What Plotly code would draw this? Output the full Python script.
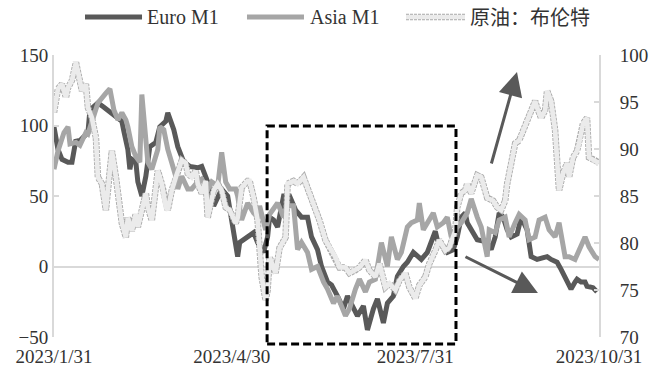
import plotly.graph_objects as go

# ---------------- data ----------------
euro_dates = ["2023-01-31","2023-02-02","2023-02-04","2023-02-07","2023-02-09","2023-02-11","2023-02-12","2023-02-15",
 "2023-02-17","2023-02-18","2023-02-22","2023-02-25","2023-02-28","2023-03-04","2023-03-06","2023-03-07","2023-03-09",
 "2023-03-10","2023-03-11","2023-03-13","2023-03-14","2023-03-16","2023-03-18","2023-03-20","2023-03-23","2023-03-25",
 "2023-03-28","2023-03-29","2023-04-01","2023-04-03","2023-04-06","2023-04-09","2023-04-13","2023-04-15","2023-04-18",
 "2023-04-21","2023-04-23","2023-04-25","2023-04-28","2023-05-01","2023-05-03","2023-05-04","2023-05-08","2023-05-11",
 "2023-05-13","2023-05-16","2023-05-18","2023-05-19","2023-05-21","2023-05-23","2023-05-26","2023-05-29","2023-06-01",
 "2023-06-04","2023-06-07","2023-06-09","2023-06-12","2023-06-14","2023-06-17","2023-06-19","2023-06-22","2023-06-25",
 "2023-06-27","2023-06-30","2023-07-02","2023-07-05","2023-07-07","2023-07-10","2023-07-12","2023-07-15","2023-07-17",
 "2023-07-20","2023-07-22","2023-07-25","2023-07-27","2023-07-30","2023-08-01","2023-08-03","2023-08-06","2023-08-08",
 "2023-08-10","2023-08-11","2023-08-14","2023-08-16","2023-08-19","2023-08-21","2023-08-23","2023-08-25","2023-08-26",
 "2023-08-29","2023-08-31","2023-09-03","2023-09-05","2023-09-07","2023-09-09","2023-09-11","2023-09-13","2023-09-15",
 "2023-09-17","2023-09-20","2023-09-22","2023-09-25","2023-09-27","2023-09-30","2023-10-02","2023-10-05","2023-10-07",
 "2023-10-10","2023-10-12","2023-10-15","2023-10-17","2023-10-19","2023-10-20","2023-10-22","2023-10-24","2023-10-25",
 "2023-10-28","2023-10-30"]
euro_m1 = [99,83,76,74,74,90,88,92,95,111,116,113,110,106,103,96,83,69,76,74,60,50,64,85,88,99,103,109,97,85,74,71,70,71,
 60,43,50,55,50,21,7,17,21,24,17,10,21,35,33,28,50,50,40,35,35,21,12,0,-11,-13,-21,-30,-21,-30,-35,-28,-45,-30,-23,-40,
 -26,-21,-7,0,3,10,7,5,10,17,25,19,14,10,12,21,35,38,31,24,19,18,17,12,21,38,35,26,21,23,35,26,7,5,6,7,5,3,-2,-11,-16,
 -11,-9,-11,-11,-14,-15,-18]

asia_dates = ["2023-01-31","2023-02-02","2023-02-05","2023-02-07","2023-02-08","2023-02-11","2023-02-13","2023-02-16",
 "2023-02-17","2023-02-20","2023-02-22","2023-02-26","2023-02-28","2023-03-02","2023-03-04","2023-03-06","2023-03-08",
 "2023-03-09","2023-03-11","2023-03-13","2023-03-15","2023-03-16","2023-03-18","2023-03-19","2023-03-21","2023-03-24",
 "2023-03-25","2023-03-27","2023-03-29","2023-03-30","2023-04-02","2023-04-03","2023-04-05","2023-04-08","2023-04-10",
 "2023-04-13","2023-04-15","2023-04-18","2023-04-20","2023-04-23","2023-04-25","2023-04-27","2023-04-29","2023-05-02",
 "2023-05-03","2023-05-05","2023-05-08","2023-05-11","2023-05-13","2023-05-14","2023-05-17","2023-05-19","2023-05-23",
 "2023-05-26","2023-05-28","2023-05-31","2023-06-02","2023-06-04","2023-06-07","2023-06-09","2023-06-12","2023-06-15",
 "2023-06-17","2023-06-20","2023-06-22","2023-06-26","2023-06-28","2023-07-01","2023-07-03","2023-07-06","2023-07-08",
 "2023-07-11","2023-07-14","2023-07-17","2023-07-19","2023-07-22","2023-07-24","2023-07-27","2023-07-29","2023-08-01",
 "2023-08-02","2023-08-04","2023-08-06","2023-08-09","2023-08-11","2023-08-14","2023-08-16","2023-08-18","2023-08-21",
 "2023-08-23","2023-08-26","2023-08-28","2023-08-31","2023-09-02","2023-09-05","2023-09-06","2023-09-09","2023-09-11",
 "2023-09-14","2023-09-16","2023-09-19","2023-09-21","2023-09-24","2023-09-26","2023-09-29","2023-10-01","2023-10-04",
 "2023-10-06","2023-10-09","2023-10-11","2023-10-14","2023-10-16","2023-10-19","2023-10-21","2023-10-24","2023-10-26",
 "2023-10-29","2023-10-31"]
asia_m1 = [69,82,95,99,87,88,86,95,94,106,116,123,126,111,104,109,104,99,85,78,74,122,95,74,69,83,99,97,83,78,64,55,64,
 55,55,60,62,55,60,57,81,60,55,55,50,33,45,38,35,43,26,37,45,35,43,43,12,17,10,-2,0,-11,-16,-26,-21,-35,-30,-16,-9,-18,
 -11,-9,17,0,21,5,10,28,31,33,45,26,31,38,28,31,35,21,28,31,38,48,35,28,7,26,24,33,35,21,31,37,33,19,21,33,35,26,21,31,
 7,7,5,12,21,14,7,5]

brent_dates = ["2023-01-31","2023-02-02","2023-02-04","2023-02-06","2023-02-07","2023-02-09","2023-02-11","2023-02-12",
 "2023-02-14","2023-02-16","2023-02-17","2023-02-19","2023-02-21","2023-02-22","2023-02-24","2023-02-26","2023-02-27",
 "2023-03-01","2023-03-03","2023-03-04","2023-03-06","2023-03-08","2023-03-09","2023-03-11","2023-03-13","2023-03-14",
 "2023-03-16","2023-03-18","2023-03-19","2023-03-21","2023-03-23","2023-03-24","2023-03-26","2023-03-28","2023-03-29",
 "2023-03-31","2023-04-02","2023-04-03","2023-04-05","2023-04-07","2023-04-08","2023-04-10","2023-04-12","2023-04-13",
 "2023-04-15","2023-04-17","2023-04-18","2023-04-21","2023-04-23","2023-04-25","2023-04-27","2023-04-29","2023-05-02",
 "2023-05-03","2023-05-05","2023-05-08","2023-05-09","2023-05-11","2023-05-13","2023-05-15","2023-05-17","2023-05-18",
 "2023-05-19","2023-05-22","2023-05-24","2023-05-27","2023-05-28","2023-05-31","2023-06-02","2023-06-05","2023-06-07",
 "2023-06-08","2023-06-11","2023-06-13","2023-06-16","2023-06-18","2023-06-21","2023-06-23","2023-06-26","2023-06-28",
 "2023-07-01","2023-07-03","2023-07-06","2023-07-08","2023-07-11","2023-07-13","2023-07-16","2023-07-18","2023-07-21",
 "2023-07-23","2023-07-26","2023-07-28","2023-07-31","2023-08-02","2023-08-05","2023-08-07","2023-08-10","2023-08-12",
 "2023-08-15","2023-08-17","2023-08-20","2023-08-21","2023-08-23","2023-08-25","2023-08-26","2023-08-28","2023-08-30",
 "2023-08-31","2023-09-02","2023-09-04","2023-09-05","2023-09-08","2023-09-10","2023-09-12","2023-09-14","2023-09-15",
 "2023-09-17","2023-09-19","2023-09-21","2023-09-23","2023-09-25","2023-09-27","2023-09-29","2023-09-30","2023-10-02",
 "2023-10-04","2023-10-05","2023-10-07","2023-10-09","2023-10-10","2023-10-11","2023-10-13","2023-10-15","2023-10-16",
 "2023-10-18","2023-10-20","2023-10-21","2023-10-23","2023-10-25","2023-10-26","2023-10-29","2023-10-31"]
brent = [93.9,96.4,96.9,95.5,96.5,97.3,99.2,98.3,96.2,96.9,94.4,93.3,91.2,87.0,86.3,83.5,85.6,89.8,87.0,85.3,82.1,80.6,
 82.7,81.3,83.1,81.7,83.5,85.3,83.8,82.4,85.9,87.7,86.3,83.8,83.5,85.6,87.0,87.7,88.8,88.5,87.4,87.0,87.7,86.3,85.3,86.6,
 82.7,85.6,86.3,85.6,83.8,83.5,82.1,82.7,85.9,86.6,86.6,84.8,82.4,76.4,73.9,75.0,78.5,76.8,79.5,80.6,86.3,86.6,86.3,87.0,
 85.9,85.3,83.5,82.4,80.3,79.5,78.5,77.4,77.4,76.8,77.1,77.4,78.2,77.1,76.4,77.8,75.3,75.7,75.0,76.0,76.8,75.3,74.1,75.5,
 76.4,77.8,79.2,80.3,79.2,79.5,81.3,83.8,85.3,85.6,86.3,85.3,86.6,87.2,87.0,85.6,84.8,84.5,83.8,83.5,84.5,86.3,88.5,90.6,
 90.9,92.0,93.0,94.1,95.1,94.4,93.3,94.1,96.2,95.1,92.0,88.8,85.6,87.4,88.5,87.0,89.1,89.8,90.6,92.7,93.3,89.1,88.8,88.5]

x_tick_vals = ["2023-01-31", "2023-04-30", "2023-07-31", "2023-10-31"]
x_tick_text = ["2023/1/31", "2023/4/30", "2023/7/31", "2023/10/31"]
left_ticks = [-50, 0, 50, 100, 150]
right_ticks = [70, 75, 80, 85, 90, 95, 100]
names = ["Euro M1", "Asia M1", "原油：布伦特"]

# ---------------- figure ----------------
SERIF = "Liberation Serif, Times New Roman, Noto Sans CJK SC, serif"
CJK = "Noto Sans CJK SC, Noto Sans, sans-serif"
C_EURO, C_ASIA, C_BRENT, C_BRENT_EDGE = "#595959", "#a6a6a6", "#ebebeb", "#ababab"

fig = go.Figure()
fig.add_trace(go.Scatter(x=euro_dates, y=euro_m1, name=names[0], mode="lines",
                         line=dict(color=C_EURO, width=5)))
fig.add_trace(go.Scatter(x=asia_dates, y=asia_m1, name=names[1], mode="lines",
                         line=dict(color=C_ASIA, width=5)))
fig.add_trace(go.Scatter(x=brent_dates, y=brent, yaxis="y2", name=names[2], mode="lines",
                         hoverinfo="skip",
                         line=dict(color=C_BRENT_EDGE, width=6.5, dash="3px,1px")))
fig.add_trace(go.Scatter(x=brent_dates, y=brent, yaxis="y2", name=names[2], mode="lines",
                         line=dict(color=C_BRENT, width=4.7)))

grey = "#d9d9d9"
fig.update_layout(
    width=649, height=376,
    margin=dict(l=54, r=50, t=55, b=39, autoexpand=False),
    paper_bgcolor="white", plot_bgcolor="white",
    font=dict(family=SERIF, size=19, color="#333333"),
    showlegend=False,
    xaxis=dict(type="date", range=["2023-01-31", "2023-10-31"],
               tickvals=x_tick_vals, ticktext=x_tick_text,
               showgrid=False, showline=False, zeroline=False, ticks="",
               ticklabelstandoff=6, tickfont=dict(size=19)),
    yaxis=dict(range=[-50, 150], tickvals=left_ticks, showgrid=False,
               showline=True, linecolor=grey, linewidth=2,
               ticks="inside", ticklen=5, tickcolor=grey, tickwidth=2,
               zeroline=True, zerolinecolor=grey, zerolinewidth=2,
               ticklabelstandoff=0),
    yaxis2=dict(range=[70, 100], tickvals=right_ticks, overlaying="y", side="right",
                showgrid=False, showline=True, linecolor=grey, linewidth=2,
                ticks="inside", ticklen=5, tickcolor=grey, tickwidth=2,
                zeroline=False, ticklabelstandoff=15),
)

# legend drawn above the plot (line samples + labels)
LEG_Y = 1.1348
leg = [(0.0569, 0.1615, 0.167, names[0], C_EURO, SERIF),
       (0.3541, 0.4587, 0.466, names[1], C_ASIA, SERIF),
       (0.6459, 0.7541, 0.7596, names[2], C_BRENT, CJK)]
for i, (x0, x1, xt, label, col, fam) in enumerate(leg):
    if i == 2:
        fig.add_shape(type="line", xref="paper", yref="paper", x0=x0, x1=x1, y0=LEG_Y, y1=LEG_Y,
                      line=dict(color=C_BRENT_EDGE, width=6.5, dash="3px,1px"))
        fig.add_shape(type="line", xref="paper", yref="paper", x0=x0, x1=x1, y0=LEG_Y, y1=LEG_Y,
                      line=dict(color=C_BRENT, width=4.7))
    else:
        fig.add_shape(type="line", xref="paper", yref="paper", x0=x0, x1=x1, y0=LEG_Y, y1=LEG_Y,
                      line=dict(color=col, width=5))
    fig.add_annotation(xref="paper", yref="paper", x=xt, y=LEG_Y, xanchor="left", yanchor="middle",
                       text=label, showarrow=False, font=dict(family=fam, size=20, color="#333333"))

# dashed highlight box
fig.add_shape(type="rect", xref="paper", yref="paper", x0=0.391, x1=0.7376, y0=-0.025, y1=0.748,
              line=dict(color="black", width=3, dash="8px,4px"), fillcolor="rgba(0,0,0,0)")

# trend arrows
fig.add_annotation(xref="paper", yref="paper", x=0.8495, y=0.9397, ax=-26, ay=93,
                   showarrow=True, arrowhead=2, arrowsize=1.6, arrowwidth=3, arrowcolor=C_EURO, text="")
fig.add_annotation(xref="paper", yref="paper", x=0.888, y=0.156, ax=-74, ay=-37,
                   showarrow=True, arrowhead=2, arrowsize=1.6, arrowwidth=3, arrowcolor=C_EURO, text="")

fig.write_html("out.html", config={"displayModeBar": False},
               post_script="document.body.style.margin='0';")
